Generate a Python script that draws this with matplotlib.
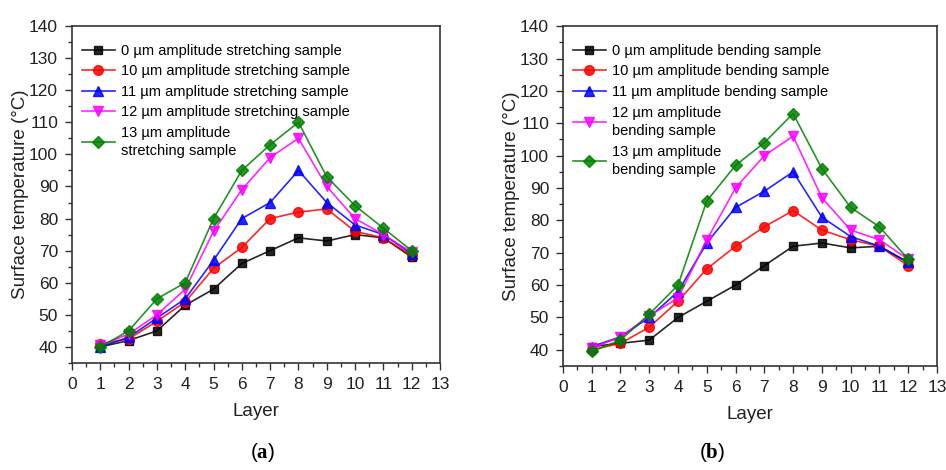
import numpy as np
import matplotlib
matplotlib.use("Agg")
import matplotlib.pyplot as plt
from matplotlib.ticker import MultipleLocator

plt.rcParams['font.family'] = ['Liberation Sans', 'DejaVu Sans']
plt.rcParams['mathtext.fontset'] = 'custom'
plt.rcParams['mathtext.bf'] = 'Liberation Serif:bold'
plt.rcParams['mathtext.rm'] = 'Liberation Serif'

layers = [1, 2, 3, 4, 5, 6, 7, 8, 9, 10, 11, 12]

# (a) stretching samples
stretch_0 = [40, 42, 45, 53, 58, 66, 70, 74, 73, 75, 74, 68]
stretch_10 = [41, 42.5, 48, 54, 64.5, 71, 80, 82, 83, 76, 74, 68.5]
stretch_11 = [40, 43, 49, 55, 67, 80, 85, 95, 85, 78, 75, 69]
stretch_12 = [40.5, 44, 50, 58, 76, 89, 99, 105, 90, 80, 75, 69.5]
stretch_13 = [40, 45, 55, 60, 80, 95, 103, 110, 93, 84, 77, 70]

# (b) bending samples
bend_0 = [41, 42, 43, 50, 55, 60, 66, 72, 73, 71.5, 72, 67]
bend_10 = [40, 42, 47, 55, 65, 72, 78, 83, 77, 74, 72, 66]
bend_11 = [41, 44, 50, 58, 73, 84, 89, 95, 81, 75, 72, 67]
bend_12 = [40.5, 44, 50.5, 56, 74, 90, 100, 106, 87, 77, 74, 68]
bend_13 = [39.5, 43, 51, 60, 86, 97, 104, 113, 96, 84, 78, 68]

labels_a = ['0 µm amplitude stretching sample',
            '10 µm amplitude stretching sample',
            '11 µm amplitude stretching sample',
            '12 µm amplitude stretching sample',
            '13 µm amplitude\nstretching sample']
labels_b = ['0 µm amplitude bending sample',
            '10 µm amplitude bending sample',
            '11 µm amplitude bending sample',
            '12 µm amplitude\nbending sample',
            '13 µm amplitude\nbending sample']

colors = ['black', 'red', 'blue', 'magenta', 'green']
markers = ['s', 'o', '^', 'v', 'D']
msizes = [6, 7, 7, 7, 6]


def draw_panel(ax, series, labels):
    for y, lab, c, m, ms in zip(series, labels, colors, markers, msizes):
        ax.plot(layers, y, color=c, marker=m, markersize=ms, linewidth=1.2,
                label=lab, alpha=0.85)
    ax.set_xlim(0, 13)
    ax.set_ylim(35, 140)
    ax.set_xticks(range(0, 14))
    ax.set_yticks(range(40, 141, 10))
    ax.xaxis.set_minor_locator(MultipleLocator(0.5))
    ax.yaxis.set_minor_locator(MultipleLocator(5))
    ax.tick_params(which='major', direction='out', length=5, width=1, pad=5,
                   labelsize=12.5, colors='#333333', labelcolor='#222222')
    ax.tick_params(which='minor', direction='out', length=3, width=1, colors='#333333')
    for s in ax.spines.values():
        s.set_linewidth(1.2)
        s.set_color('#333333')
    ax.set_xlabel('Layer', fontsize=13.5, color='#222222', labelpad=8)
    ax.set_ylabel('Surface temperature (°C)', fontsize=13.5, color='#222222', labelpad=0)
    leg = ax.legend(loc='upper left', frameon=False, fontsize=10.5, handlelength=2.3,
                    handletextpad=0.4, labelspacing=0.45, borderaxespad=0.0,
                    bbox_to_anchor=(0.01, 0.965))
    for t in leg.get_texts():
        t.set_linespacing(1.4)


fig = plt.figure(figsize=(9.46, 4.70), dpi=100)
ax1 = fig.add_axes([0.0761, 0.2277, 0.389, 0.717])
ax2 = fig.add_axes([0.5951, 0.2213, 0.3953, 0.723])

draw_panel(ax1, [stretch_0, stretch_10, stretch_11, stretch_12, stretch_13], labels_a)
draw_panel(ax2, [bend_0, bend_10, bend_11, bend_12, bend_13], labels_b)

fig.text(0.277, 0.038, r'($\mathbf{a}$)', ha='center', va='center', fontsize=15)
fig.text(0.753, 0.038, r'($\mathbf{b}$)', ha='center', va='center', fontsize=15)

fig.savefig('out.png', dpi=100)
